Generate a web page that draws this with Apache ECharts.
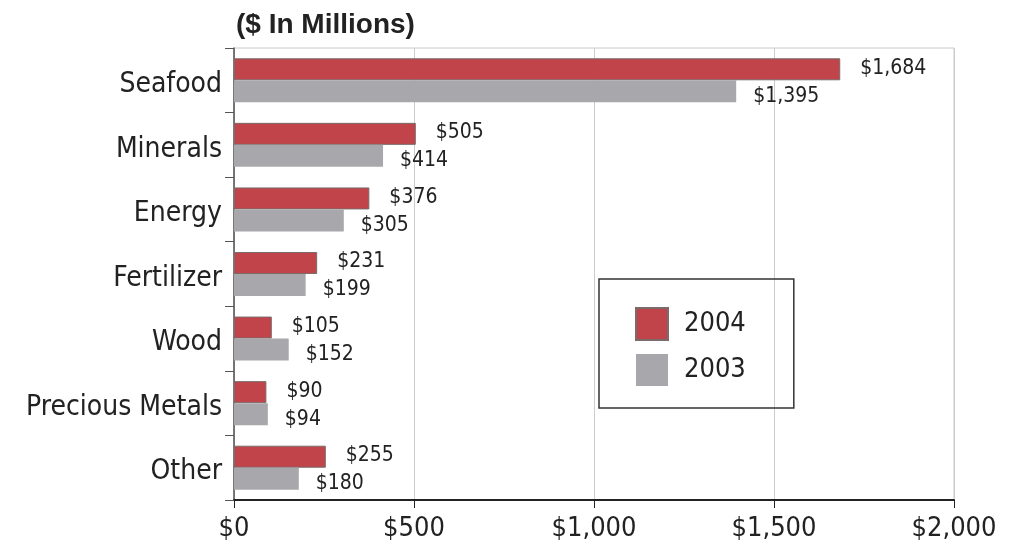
<!DOCTYPE html>
<html>
<head>
<meta charset="utf-8">
<script src="https://cdn.jsdelivr.net/npm/echarts@6/dist/echarts.min.js"></script>
<style>
html,body{margin:0;padding:0;background:#fff;}
#chart{width:1016px;height:553px;}
</style>
</head>
<body>
<div id="chart"></div>
<script>
const categories = ['Seafood', 'Minerals', 'Energy', 'Fertilizer', 'Wood', 'Precious Metals', 'Other'];
const values2004 = [1684, 505, 376, 231, 105, 90, 255];
const values2003 = [1395, 414, 305, 199, 152, 94, 180];
const xTicks = [0, 500, 1000, 1500, 2000];

const FONT = '"DejaVu Sans Condensed", "DejaVu Sans", sans-serif';
const money = v => '$' + Number(v).toLocaleString('en-US');

const chart = echarts.init(document.getElementById('chart'));
chart.setOption({
  animation: false,
  backgroundColor: '#fff',
  title: {
    text: '($ In Millions)',
    left: 231, top: 6,
    textStyle: { fontFamily: '"Liberation Sans", Arial, sans-serif', fontWeight: 'bold', fontSize: 28, color: '#222' }
  },
  grid: {
    left: 234, right: 62, top: 48, bottom: 53,
    show: true, borderColor: '#c8c8c8', borderWidth: 1
  },
  legend: {
    data: ['2004', '2003'],
    orient: 'vertical',
    left: 599, top: 279,
    borderColor: '#333', borderWidth: 1.5,
    padding: [28, 48, 22, 36],
    itemWidth: 32, itemHeight: 32, itemGap: 13,
    icon: 'rect',
    textStyle: { fontFamily: FONT, fontSize: 27, color: '#222', padding: [0, 0, 0, 11] }
  },
  xAxis: {
    type: 'value',
    min: xTicks[0], max: xTicks[xTicks.length - 1], interval: 500,
    axisLine: { show: true, lineStyle: { color: '#222', width: 2 } },
    axisTick: { show: true, length: 8, lineStyle: { color: '#222' } },
    splitLine: { show: true, lineStyle: { color: '#cccccc', width: 1 } },
    axisLabel: { formatter: money, fontFamily: FONT, fontSize: 27, color: '#222', margin: 15 }
  },
  yAxis: {
    type: 'category',
    data: categories,
    inverse: true,
    axisLine: { show: true, lineStyle: { color: '#555', width: 1.5 } },
    axisTick: { show: true, length: 9, lineStyle: { color: '#555' } },
    axisLabel: {
      margin: 12,
      formatter: v => '{c|' + v + '}',
      rich: { c: { fontFamily: FONT, fontSize: 28, color: '#222', padding: [9, 0, 0, 0] } }
    }
  },
  series: [
    {
      name: '2004', type: 'bar', data: values2004,
      barWidth: 22, barGap: '0%',
      itemStyle: { color: '#c0444a', borderColor: '#7a6a6a', borderWidth: 1 },
      label: { show: true, position: 'right', distance: 20, offset: [0, -1], formatter: p => money(p.value),
        fontFamily: FONT, fontSize: 21, color: '#222' }
    },
    {
      name: '2003', type: 'bar', data: values2003,
      barWidth: 22, barGap: '0%',
      itemStyle: { color: '#a8a8ac' },
      label: { show: true, position: 'right', distance: 17, offset: [0, 5], formatter: p => money(p.value),
        fontFamily: FONT, fontSize: 21, color: '#222' }
    }
  ]
});
</script>
</body>
</html>
